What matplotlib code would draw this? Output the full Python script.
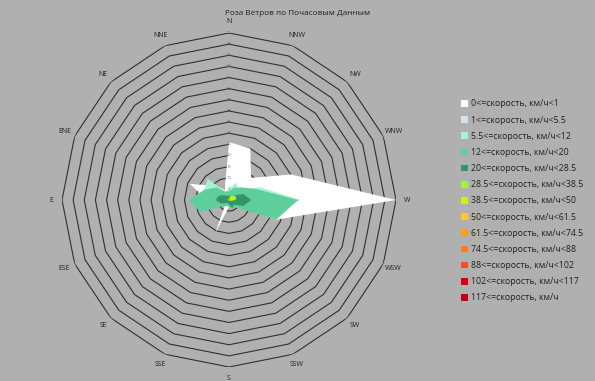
import numpy as np
import matplotlib
matplotlib.use("Agg")
import matplotlib.pyplot as plt

plt.rcParams['font.family'] = ['Open Sans', 'DejaVu Sans']

# направления, по часовой стрелке от верха (как в Excel)
directions = ["N", "NNW", "NW", "WNW", "W", "WSW", "SW", "SSW",
              "S", "SSE", "SE", "ESE", "E", "ENE", "NE", "NNE"]

labels = ["0<=скорость, км/ч<1", "1<=скорость, км/ч<5.5", "5.5<=скорость, км/ч<12",
          "12<=скорость, км/ч<20", "20<=скорость, км/ч<28.5", "28.5<=скорость, км/ч<38.5",
          "38.5<=скорость, км/ч<50", "50<=скорость, км/ч<61.5", "61.5<=скорость, км/ч<74.5",
          "74.5<=скорость, км/ч<88", "88<=скорость, км/ч<102", "102<=скорость, км/ч<117",
          "117<=скорость, км/ч"]

colors = ["#ffffff", "#d6e2ee", "#a6f2d2", "#5ecf9c", "#35946a", "#9cf53a",
          "#ccf500", "#ffc82a", "#ffa010", "#ff7a20", "#ff4a1a", "#d00010", "#c00018"]

# значения по направлениям (N, NNW, NW, ... NNE)
s0 = [26, 25, 14, 30, 75, 23, 4, 2, 3, 16, 2, 4, 10, 19, 9, 5]
s1 = [3, 5, 4, 10, 25, 15, 3, 2, 2, 1.5, 2, 8, 12, 9, 8, 3]
s2 = [5, 8.5, 6, 15, 32, 20, 4, 3, 3, 2, 3, 12, 16, 12, 13.5, 4]
s3 = [4, 6, 8, 13, 31, 23, 5, 4, 3, 3, 4, 14, 18, 12, 8, 4]
s4 = [2, 2, 3, 7, 10, 7, 3, 4, 2, 1.5, 2, 4, 6, 5, 3, 2]
s5 = [1, 2, 3, 3.5, 3, 1, 0.5, 0.5, 0.5, 0.3, 0.3, 0.5, 1, 0.5, 0.5, 0.5]
s6 = [0.5, 1, 2, 2.5, 2, 0.5, 0.2, 0.2, 0.2, 0.2, 0.2, 0.2, 0.3, 0.2, 0.2, 0.2]
s7 = [0] * 16
s8 = [0] * 16
s9 = [0] * 16
s10 = [0] * 16
s11 = [0] * 16
s12 = [0] * 16
series = [s0, s1, s2, s3, s4, s5, s6, s7, s8, s9, s10, s11, s12]

rings = np.arange(0, 80, 5)
rmax = 75

bg = "#b0b0b0"
fig = plt.figure(figsize=(5.95, 3.81), dpi=100, facecolor=bg)
ax = fig.add_axes([62 / 595, 14 / 381, 334 / 595, 334 / 381], projection="polar")
ax.set_facecolor("none")
ax.set_theta_zero_location("N")
ax.set_theta_direction(-1)
ax.set_ylim(0, rmax)

theta = np.linspace(0, 2 * np.pi, len(directions), endpoint=False)
theta_c = np.append(theta, theta[0])

# кольца сетки (многоугольники)
for r in rings[1:]:
    ax.plot(theta_c, [r] * len(theta_c), color="#303030", lw=0.8, zorder=1)

# серии
for vals, col, lab in zip(series, colors, labels):
    v = np.append(vals, vals[0])
    ax.fill(theta_c, v, color=col, lw=0, zorder=2, label=lab)

ax.grid(False)
ax.spines["polar"].set_visible(False)
ax.set_xticks([])
ax.set_yticks([])

for r in rings:
    ax.text(0, r, str(r), fontsize=3, color="#707070", ha="center", va="center", zorder=3)

for t, d in zip(theta, directions):
    ax.text(t, 80, d, fontsize=5, color="#202020", ha="center", va="center")

fig.text(0.5, 0.965, "Роза Ветров по Почасовым Данным", fontsize=5.9, color="#202020", ha="center", va="center")

handles, labs = ax.get_legend_handles_labels()
leg = fig.legend(handles, labs, loc="upper left", bbox_to_anchor=(457 / 595, 1 - 95 / 381),
                 frameon=False, fontsize=6.3, handlelength=0.8, handleheight=0.8,
                 handletextpad=0.25, labelspacing=0.82, borderpad=0, labelcolor="#202020")

fig.savefig("out.png", dpi=100, facecolor=bg)
